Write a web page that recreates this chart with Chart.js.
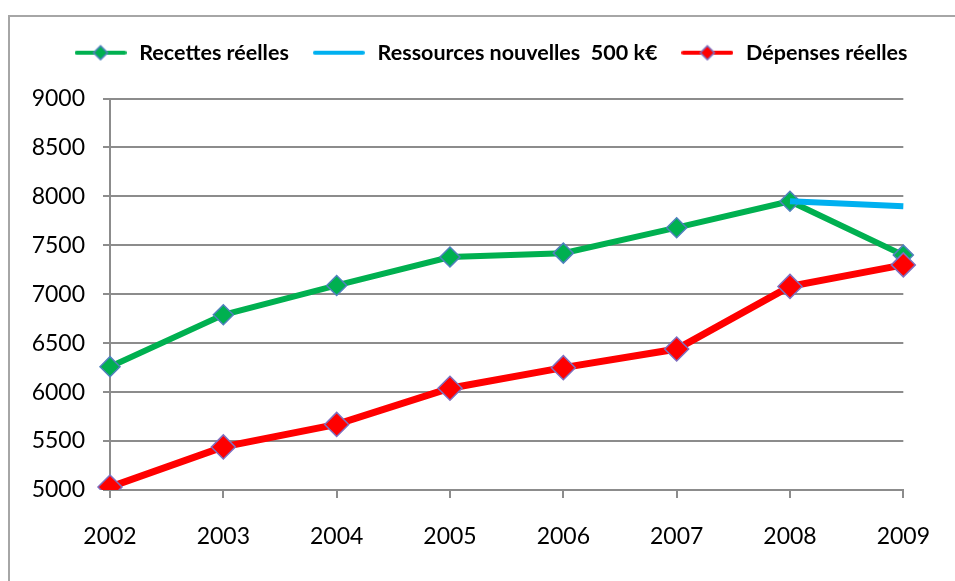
<!DOCTYPE html>
<html>
<head>
<meta charset="utf-8">
<script src="https://cdn.jsdelivr.net/npm/chart.js@4"></script>
<style>
  body { margin: 0; background: #fff; }
  #wrap { position: relative; width: 955px; height: 581px; }
  #frame { position: absolute; left: 8px; top: 15px; right: -10px; bottom: -10px; border: 2px solid #a6a6a6; }
  #chart { position: absolute; left: 0; top: 0; }
</style>
</head>
<body>
<div id="wrap">
  <div id="frame"></div>
  <canvas id="chart" width="955" height="581"></canvas>
</div>
<script>
// Data
const years = ['2002', '2003', '2004', '2005', '2006', '2007', '2008', '2009'];
const recettes = [6260, 6790, 7090, 7380, 7420, 7680, 7950, 7400];
const ressources = [null, null, null, null, null, null, 7950, 7900];
const depenses = [5030, 5440, 5670, 6040, 6250, 6440, 7080, 7300];
const yTicks = [5000, 5500, 6000, 6500, 7000, 7500, 8000, 8500, 9000];

const GRID = '#8c8c8c';
const FONT = 'Lato, "Open Sans", sans-serif';

// small line + diamond image for the legend entries
function legendIcon(color, fill, border, withMarker) {
  const c = document.createElement('canvas');
  c.width = 52; c.height = 18;
  const g = c.getContext('2d');
  g.strokeStyle = color;
  g.lineWidth = 4;
  g.lineCap = 'round';
  g.beginPath(); g.moveTo(2, 9); g.lineTo(50, 9); g.stroke();
  if (withMarker) {
    g.fillStyle = fill;
    g.strokeStyle = border;
    g.lineWidth = 1.5;
    g.beginPath();
    g.moveTo(26, 2); g.lineTo(33, 9); g.lineTo(26, 16); g.lineTo(19, 9); g.closePath();
    g.fill(); g.stroke();
  }
  return c;
}

// extra room under the legend, and nudge it to the right like the original
const legendTweak = {
  id: 'legendTweak',
  beforeInit(chart) {
    const fit = chart.legend.fit;
    chart.legend.fit = function() {
      fit.bind(chart.legend)();
      this.height += 25;
    };
  },
  afterLayout(chart) {
    chart.legend.left += 22;
    chart.legend.right += 22;
  }
};

const ctx = document.getElementById('chart').getContext('2d');
const chart = new Chart(ctx, {
  type: 'line',
  data: {
    labels: years,
    datasets: [
      {
        label: 'Recettes réelles',
        data: recettes,
        borderColor: '#00b050',
        borderWidth: 6,
        pointStyle: 'rectRot',
        pointRadius: 10,
        pointBackgroundColor: '#00b050',
        pointBorderColor: '#4f81bd',
        pointBorderWidth: 1.5,
        legendIcon: legendIcon('#00b050', '#00b050', '#4f81bd', true),
        tension: 0,
        order: 3
      },
      {
        label: 'Ressources nouvelles  500 k€',
        data: ressources,
        borderColor: '#00b0f0',
        borderWidth: 6,
        pointRadius: 0,
        legendIcon: legendIcon('#00b0f0', '#00b0f0', '#00b0f0', false),
        tension: 0,
        order: 2
      },
      {
        label: 'Dépenses réelles',
        data: depenses,
        borderColor: '#ff0000',
        borderWidth: 7,
        pointStyle: 'rectRot',
        pointRadius: 12,
        pointBackgroundColor: '#ff0000',
        pointBorderColor: '#7f6fbf',
        pointBorderWidth: 1.5,
        legendIcon: legendIcon('#ff0000', '#ff0000', '#7f6fbf', true),
        tension: 0,
        order: 1
      }
    ]
  },
  options: {
    responsive: false,
    animation: false,
    layout: { padding: { left: 26, right: 45, top: 20, bottom: 0 } },
    plugins: {
      tooltip: { enabled: false },
      legend: {
        position: 'top',
        labels: {
          usePointStyle: true,
          pointStyleWidth: 56,
          padding: 22,
          color: '#000',
          font: { family: FONT, size: 21.5, weight: 'bold' },
          sort: (a, b) => a.datasetIndex - b.datasetIndex,
          generateLabels: function(chart) {
            return chart.data.datasets.map((ds, i) => ({
              text: ds.label,
              datasetIndex: i,
              pointStyle: ds.legendIcon,
              fillStyle: ds.borderColor,
              strokeStyle: ds.borderColor,
              lineWidth: 0,
              hidden: false
            }));
          }
        }
      }
    },
    scales: {
      x: {
        offset: false,
        grid: { drawOnChartArea: false, drawTicks: true, tickLength: 8, color: GRID, lineWidth: 2 },
        border: { display: true, color: GRID, width: 2 },
        ticks: { color: '#000', padding: 25, font: { family: FONT, size: 23 } },
        afterFit: s => { s.height = 91; }
      },
      y: {
        min: 5000,
        max: 9000,
        afterBuildTicks: s => { s.ticks = yTicks.map(v => ({ value: v })); },
        grid: { color: GRID, lineWidth: 2, tickLength: 7 },
        border: { display: true, color: GRID, width: 2 },
        ticks: { color: '#000', padding: 18, font: { family: FONT, size: 23 }, callback: v => String(v) },
        afterFit: s => { s.width = 84; }
      }
    }
  },
  plugins: [legendTweak]
});
</script>
</body>
</html>
